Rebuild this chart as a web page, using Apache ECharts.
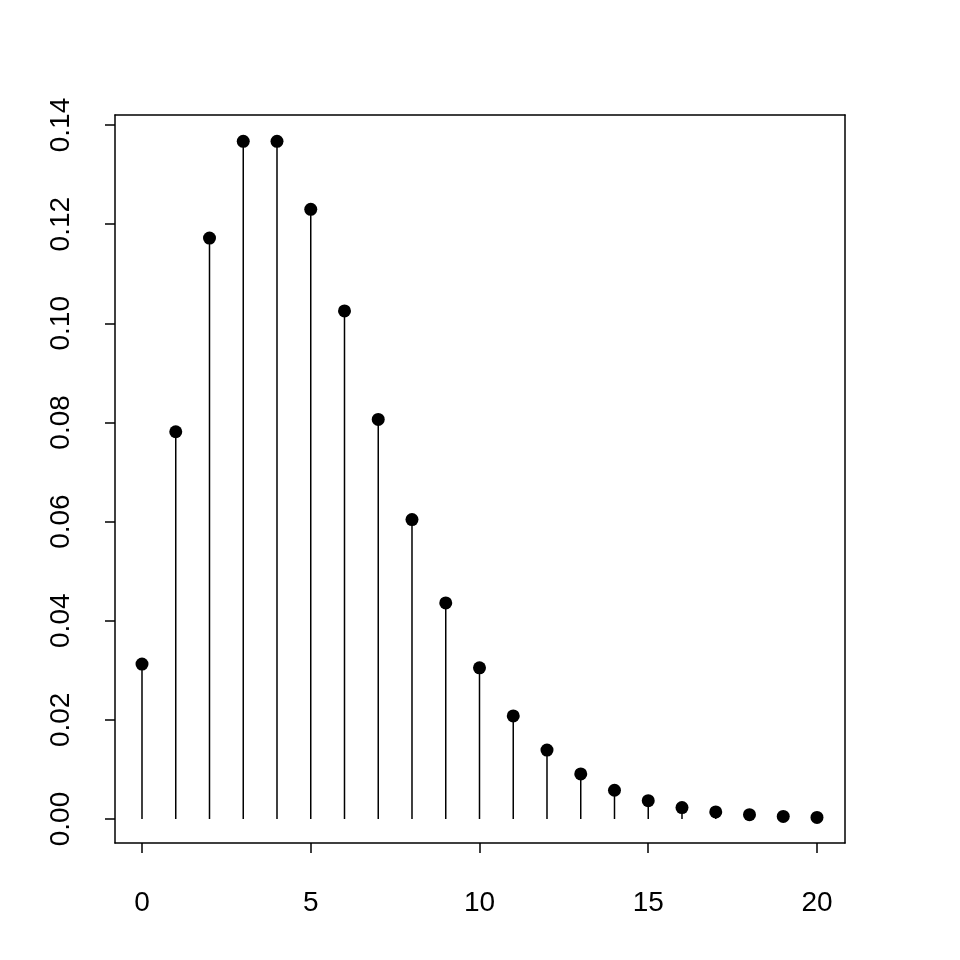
<!DOCTYPE html>
<html><head><meta charset="utf-8">
<script src="https://cdn.jsdelivr.net/npm/echarts@6/dist/echarts.min.js"></script>
<style>html,body{margin:0;background:#fff}#c{width:960px;height:960px}</style>
</head><body><div id="c"></div>
<script>
const xs = [0,1,2,3,4,5,6,7,8,9,10,11,12,13,14,15,16,17,18,19,20];
const probs = [0.03125,0.078125,0.1172,0.1367,0.1367,0.1230,0.1025,0.0806,0.0604,0.0436,0.0305,0.0208,0.0139,0.0091,0.0058,0.0037,0.0023,0.00143,0.00087,0.00053,0.00032];
const xTicks = [0,5,10,15,20];
const yTicks = [0,0.02,0.04,0.06,0.08,0.10,0.12,0.14];
const pts = xs.map((x,i)=>[x,probs[i]]);
const font = {fontFamily:'Liberation Sans',fontSize:28,color:'#000'};
const chart = echarts.init(document.getElementById('c'));
chart.setOption({
  animation:false,
  grid:{left:115,top:115,width:730,height:728},
  xAxis:[{type:'value',min:-0.8,max:20.83,
    axisLine:{show:true,onZero:false,lineStyle:{color:'#000',width:1.5}},
    axisTick:{show:true,length:10,lineStyle:{color:'#000',width:1.5},customValues:xTicks},
    axisLabel:{...font,margin:46,customValues:xTicks,formatter:v=>String(v)},
    splitLine:{show:false}},
   {type:'value',position:'top',min:-0.8,max:20.83,axisLine:{show:true,onZero:false,lineStyle:{color:'#000',width:1.5}},axisTick:{show:false},axisLabel:{show:false},splitLine:{show:false}}],
  yAxis:[{type:'value',min:-0.00484,max:0.14202,
    axisLine:{show:true,onZero:false,lineStyle:{color:'#000',width:1.5}},
    axisTick:{show:true,length:10,lineStyle:{color:'#000',width:1.5},customValues:yTicks},
    axisLabel:{...font,rotate:90,margin:40,customValues:yTicks,formatter:v=>v.toFixed(2)},
    splitLine:{show:false}},
   {type:'value',position:'right',min:-0.00484,max:0.14202,axisLine:{show:true,onZero:false,lineStyle:{color:'#000',width:1.5}},axisTick:{show:false},axisLabel:{show:false},splitLine:{show:false}}],
  series:[
    {type:'custom',renderItem:(p,api)=>{const a=api.coord([api.value(0),0]);const b=api.coord([api.value(0),api.value(1)]);
      return {type:'line',shape:{x1:a[0],y1:a[1],x2:b[0],y2:b[1]},style:{stroke:'#000',lineWidth:1.5}};},data:pts},
    {type:'scatter',data:pts,symbolSize:13,itemStyle:{color:'#000',opacity:1}}
  ]
});
</script></body></html>
